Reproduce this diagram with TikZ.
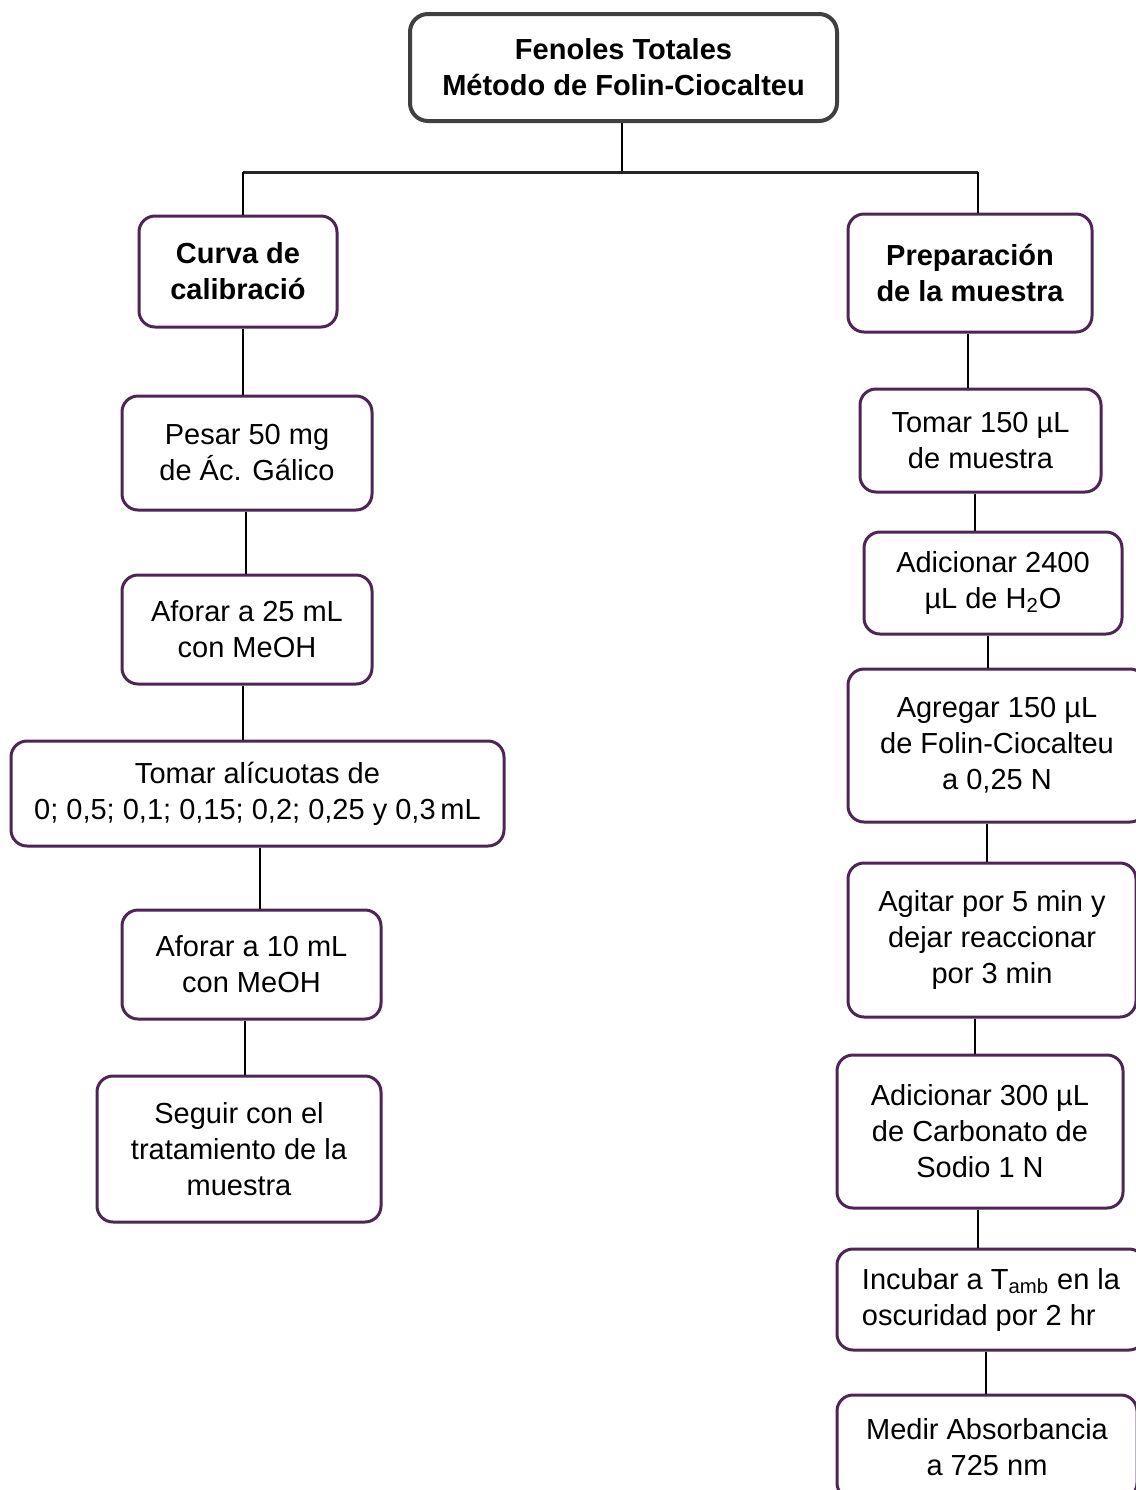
\documentclass[tikz,border=0pt]{standalone}
\usepackage{fontspec}
\setmainfont{Liberation Sans}
\definecolor{boxpurple}{RGB}{78,38,84}
\definecolor{topgray}{RGB}{64,64,64}
\tikzset{
  stepbox/.style={draw=boxpurple, line width=1.5pt, rounded corners=8pt, fill=white,
    align=center, inner sep=0pt, font=\fontsize{14.5}{18}\selectfont},
  topbox/.style={draw=topgray, line width=2pt, rounded corners=9pt, fill=white,
    align=center, inner sep=0pt, font=\bfseries\fontsize{14.5}{18}\selectfont},
  conn/.style={draw=black, line width=1pt},
  bar/.style={draw=black!85, line width=1.5pt}
}
\begin{document}
\begin{tikzpicture}[x=0.5pt,y=-0.5pt]
\useasboundingbox (0,0) rectangle (1136,1490);
\clip (0,0) rectangle (1136,1490);
\fill[white] (0,0) rectangle (1136,1490);

% top
\node[topbox, minimum width=213.5pt, minimum height=53.5pt] (top) at (623.5,67.5) {Fenoles Totales\\Método de Folin-Ciocalteu};

% left column
\node[stepbox, font=\bfseries\fontsize{14.5}{18}\selectfont, minimum width=99pt, minimum height=55.5pt] (curva) at (238,271.5) {Curva de\\calibració};
\node[stepbox, minimum width=125pt, minimum height=57pt] (pesar) at (247,453) {Pesar 50 mg\\de Ác. Gálico};
\node[stepbox, minimum width=125pt, minimum height=54.5pt] (afor25) at (247,629.5) {Aforar a 25 mL\\con MeOH};
\node[stepbox, minimum width=246.5pt, minimum height=52.5pt] (tomarA) at (257.5,793.5) {Tomar alícuotas de\\0; 0,5; 0,1; 0,15; 0,2; 0,25 y 0,3\,mL};
\node[stepbox, minimum width=129.5pt, minimum height=54.5pt] (afor10) at (251.5,964.5) {Aforar a 10 mL\\con MeOH};
\node[stepbox, minimum width=142pt, minimum height=73pt] (seguir) at (239,1149) {Seguir con el\\tratamiento de la\\muestra};

% right column
\node[stepbox, font=\bfseries\fontsize{14.5}{18}\selectfont, minimum width=122pt, minimum height=59pt] (prep) at (970,273) {Preparación\\de la muestra};
\node[stepbox, minimum width=120.5pt, minimum height=51.5pt] (t150) at (980.5,440.5) {Tomar 150 µL\\de muestra};
\node[stepbox, minimum width=129pt, minimum height=51pt] (a2400) at (993,583) {Adicionar 2400\\µL de H\textsubscript{2}O};
\node[stepbox, minimum width=149pt, minimum height=76.5pt] (agregar) at (997,745.5) {Agregar 150 µL\\de Folin-Ciocalteu\\a 0,25 N};
\node[stepbox, minimum width=144pt, minimum height=77pt] (agitar) at (992,940) {Agitar por 5 min y\\dejar reaccionar\\por 3 min};
\node[stepbox, minimum width=143pt, minimum height=76.5pt] (a300) at (980,1131.5) {Adicionar 300 µL\\de Carbonato de\\Sodio 1 N};
\node[stepbox, align=left, minimum width=154pt, minimum height=50.5pt] (incubar) at (991,1299.5) {Incubar a T\textsubscript{amb} en la\\oscuridad por 2 hr};
\node[stepbox, minimum width=150pt, minimum height=52pt] (medir) at (987,1447) {Medir Absorbancia\\a 725 nm};

% tree junction
\coordinate (jM) at (622,172);
\coordinate (jL) at (243,172);
\coordinate (jR) at (978,172);
\draw[conn] (top.south -| jM) -- (jM);
\draw[bar] (jL) -- (jR);
\draw[conn] (jL) -- (curva.north -| jL);
\draw[conn] (jR) -- (prep.north -| jR);

% left connectors
\coordinate (c1) at (243,0);
\coordinate (c2) at (246,0);
\coordinate (c3) at (243,0);
\coordinate (c4) at (260,0);
\coordinate (c5) at (245,0);
\draw[conn] (curva.south -| c1) -- (pesar.north -| c1);
\draw[conn] (pesar.south -| c2) -- (afor25.north -| c2);
\draw[conn] (afor25.south -| c3) -- (tomarA.north -| c3);
\draw[conn] (tomarA.south -| c4) -- (afor10.north -| c4);
\draw[conn] (afor10.south -| c5) -- (seguir.north -| c5);

% right connectors
\coordinate (r1) at (968,0);
\coordinate (r2) at (975,0);
\coordinate (r3) at (988,0);
\coordinate (r4) at (987,0);
\coordinate (r5) at (975,0);
\coordinate (r6) at (978,0);
\coordinate (r7) at (986,0);
\draw[conn] (prep.south -| r1) -- (t150.north -| r1);
\draw[conn] (t150.south -| r2) -- (a2400.north -| r2);
\draw[conn] (a2400.south -| r3) -- (agregar.north -| r3);
\draw[conn] (agregar.south -| r4) -- (agitar.north -| r4);
\draw[conn] (agitar.south -| r5) -- (a300.north -| r5);
\draw[conn] (a300.south -| r6) -- (incubar.north -| r6);
\draw[conn] (incubar.south -| r7) -- (medir.north -| r7);
\end{tikzpicture}
\end{document}
